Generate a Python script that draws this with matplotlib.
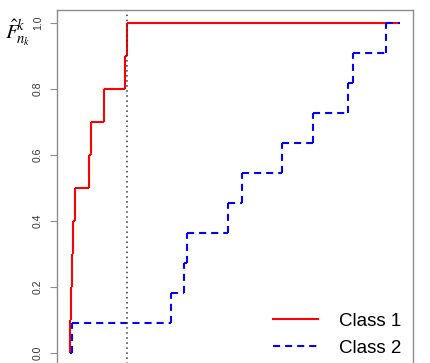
import numpy as np
import matplotlib.pyplot as plt
from matplotlib.lines import Line2D

class1 = [0.0, 0.2, 0.6, 0.9, 1.5, 5.7, 6.3, 10.3, 16.6, 17.2]
class2 = [0.6, 30.5, 34.4, 35.3, 48.0, 52.0, 64.4, 73.7, 84.3, 85.8, 95.8]
x_lo, x_hi = 0.0, 100.0
split = 17.2
yticks = [0.0, 0.2, 0.4, 0.6, 0.8, 1.0]
ytick_labels = ["0.0", "0.2", "0.4", "0.6", "0.8", "1.0"]

def ecdf_parts(obs):
    xs = np.sort(np.array(obs))
    n = len(xs)
    ys = np.arange(1, n + 1) / n
    left = np.r_[x_lo, xs]
    right = np.r_[xs, x_hi]
    h = np.r_[0.0, ys]
    return xs, ys, n, left, right, h

plt.rcParams['font.family'] = ['Liberation Sans', 'DejaVu Sans']
plt.rcParams['mathtext.fontset'] = 'stix'

fig = plt.figure(figsize=(4.30, 3.63), dpi=100)
ax = fig.add_axes([57/430, -3/363, 356/430, 356/363])

dash = (0, (3.4, 2.4))

xs, ys, n, left, right, h = ecdf_parts(class1)
ax.hlines(h, left, right, colors='#ff0000', lw=1.5)
ax.vlines(xs, ys - 1/n, ys, colors='#ff0000', lw=1.5)

xs, ys, n, left, right, h = ecdf_parts(class2)
ax.hlines(h, left, right, colors='#0000ff', lw=1.5, linestyles=[dash])
ax.vlines(xs, ys - 1/n, ys, colors='#0000ff', lw=1.5, linestyles=[dash])

ax.axvline(split, color='#333333', lw=1.1, linestyle=(0, (1, 2.3)))

ax.set_xlim(x_lo - 0.04*(x_hi - x_lo), x_hi + 0.04*(x_hi - x_lo))
ax.set_ylim(-0.04, 1.04)
ax.set_xticks([])
ax.set_yticks(yticks)
ax.set_yticklabels(ytick_labels, rotation=90, va='center', fontsize=7.5, color='#333333')
ax.tick_params(axis='y', length=5, width=0.8, color='#8c8c8c', pad=5.0)
for s in ax.spines.values():
    s.set_color('#8c8c8c')
    s.set_linewidth(1.0)

fig.text(5/430, 1 - 33/363, r'$\hat{F}^{\!k}_{\!n_k}$', fontsize=15, ha='left', va='center')

handles = [Line2D([], [], color='#ff0000', lw=1.5),
           Line2D([], [], color='#0000ff', lw=1.5, linestyle=dash)]
ax.legend(handles, ['Class 1', 'Class 2'], loc='lower right', frameon=False,
          bbox_to_anchor=(401/430, 1 - 357/363), bbox_transform=fig.transFigure,
          borderpad=0, borderaxespad=0, fontsize=13.5, handlelength=2.4,
          handletextpad=1.1, labelspacing=0.55)

fig.savefig('out.png', dpi=100)
